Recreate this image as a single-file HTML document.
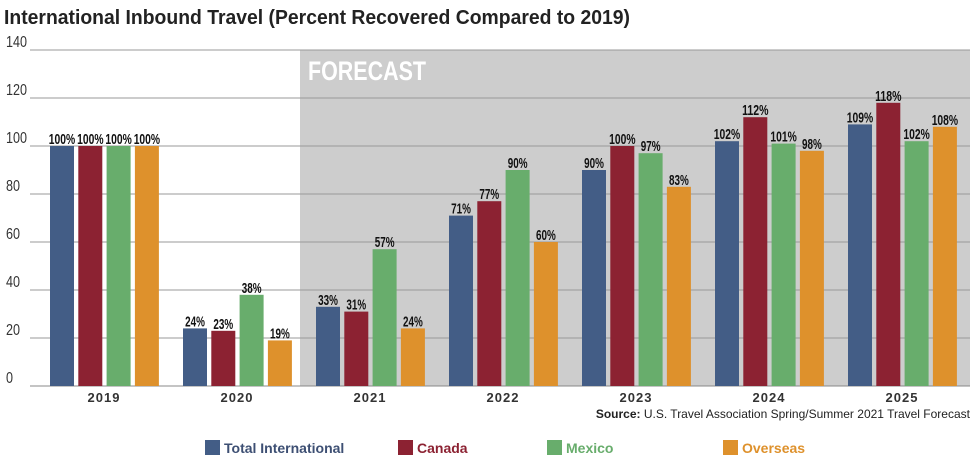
<!DOCTYPE html>
<html><head><meta charset="utf-8"><style>
body{margin:0;background:#fff;width:977px;height:463px;overflow:hidden;font-family:"Liberation Sans",sans-serif}
svg{display:block}
</style></head><body>
<svg id="chart" width="977" height="463">
<text x="4" y="24" font-size="20" font-weight="bold" fill="#222" textLength="626" lengthAdjust="spacingAndGlyphs">International Inbound Travel (Percent Recovered Compared to 2019)</text>
<rect x="300" y="50" width="670" height="336" fill="#cdcdcd"/>
<text x="308" y="80" font-size="27" font-weight="bold" fill="#fff" textLength="118" lengthAdjust="spacingAndGlyphs">FORECAST</text>
<g id="grid"></g><g id="bars"></g><g id="labels"></g>
<text x="970" y="418" font-size="12" fill="#222" text-anchor="end"><tspan font-weight="bold">Source:</tspan> U.S. Travel Association Spring/Summer 2021 Travel Forecast</text>
<g id="legend"></g>
</svg>
<script>
const categories=["2019","2020","2021","2022","2023","2024","2025"];
const seriesNames=["Total International","Canada","Mexico","Overseas"];
const totalIntl=[100,24,33,71,90,102,109];
const canada=[100,23,31,77,100,112,118];
const mexico=[100,38,57,90,97,101,102];
const overseas=[100,19,24,60,83,98,108];
const yTicks=[0,20,40,60,80,100,120,140];
const colors=["#435d86","#8c2232","#68ad6c","#de912c"];
const series=[totalIntl,canada,mexico,overseas];
const NS="http://www.w3.org/2000/svg";
const y=v=>386-v*2.4;
const gx=i=>50+i*133;
const bx=(i,s)=>gx(i)+s*28.3;
function mk(tag,attrs,parent){const e=document.createElementNS(NS,tag);for(const k in attrs)e.setAttribute(k,attrs[k]);parent.appendChild(e);return e;}
const grid=document.getElementById('grid'),bars=document.getElementById('bars'),labels=document.getElementById('labels'),legend=document.getElementById('legend');
yTicks.forEach(t=>{
 const l=mk('line',{x1:30,x2:970,y1:y(t),y2:y(t),stroke:t===0?'#888':'#999','stroke-width':1},grid);
 
 
 const s=String(t);
 const tx=mk('text',{x:6,y:y(t)-3,'font-size':16,fill:'#333',textLength:s.length*7,lengthAdjust:'spacingAndGlyphs'},grid);
 tx.textContent=s;
 
 
});
categories.forEach((c,i)=>{
 series.forEach((arr,s)=>{
  const v=arr[i];
  const r=mk('rect',{x:bx(i,s),y:y(v),width:24,height:v*2.4,fill:colors[s]},bars);
  
  
  const str=v+'%';
  const w=str.length*6.6;
  const t=mk('text',{x:bx(i,s)+12-w/2,y:y(v)-2,'font-size':15,'font-weight':'bold',fill:'#111',textLength:w,lengthAdjust:'spacingAndGlyphs'},labels);
  t.textContent=str;
  
  
 });
 const xl=mk('text',{x:gx(i)+54,y:402,'font-size':13,'font-weight':'bold','text-anchor':'middle',fill:'#333','letter-spacing':'1'},labels);
 xl.textContent=c;
 
 
});
const legX=[205,398,547,723];
seriesNames.forEach((n,s)=>{
 const g=mk('g',{},legend);
 
 
 mk('rect',{x:legX[s],y:440,width:15,height:15,fill:colors[s]},g);
 const t=mk('text',{x:legX[s]+19,y:453,'font-size':14,'font-weight':'bold',fill:s===0?'#3d4f73':colors[s]},g);
 t.textContent=n;
});
</script>
</body></html>
